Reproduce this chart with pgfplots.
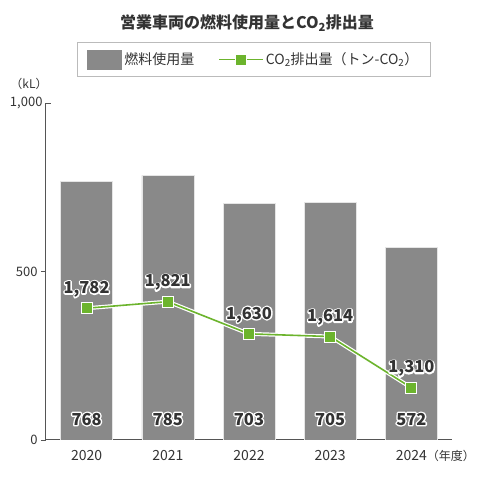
\documentclass[border=0pt]{standalone}
\usepackage{pgfplots}
\pgfplotsset{compat=1.18}
\usepackage{fontspec}
\setmainfont{Noto Sans CJK JP}
\newcommand\halo[1]{\leavevmode\rlap{\special{pdf:literal direct 1 Tr 2.8 w 1 j 1 1 1 RG}#1\special{pdf:literal direct 0 Tr}}#1}
\definecolor{bargray}{HTML}{898989}
\definecolor{cogreen}{HTML}{6CB42D}
\definecolor{axgray}{HTML}{555555}
\definecolor{txt}{HTML}{333333}
\definecolor{legendgray}{HTML}{BBBBBB}
\pgfplotsset{co legend/.style={legend image code/.code={\draw[mark repeat=2,mark phase=2,##1] plot coordinates {(0pt,0pt) (22pt,0pt) (44pt,0pt)};}}}
\begin{document}
\begin{tikzpicture}
\path[use as bounding box] (0pt,0pt) rectangle (482pt,478pt);
\node[font=\fontsize{16}{19}\selectfont\bfseries, text=txt] at (247pt,455pt) {営業車両の燃料使用量とCO\textsubscript{2}排出量};
\node[font=\fontsize{12}{14}\selectfont, text=txt] at (29pt,394pt) {（kL）};
\begin{axis}[
  at={(46pt,38pt)}, anchor=south west,
  scale only axis, width=406pt, height=337pt,
  xmin=-0.5, xmax=4.5, ymin=0, ymax=1000,
  axis x line*=bottom, axis y line*=left,
  axis line style={-, draw=axgray, line width=1pt},
  xtick={0,1,2,3,4},
  xticklabels={2020,2021,2022,2023,{2024\rlap{\fontsize{12}{14}\selectfont（年度）}}},
  xtick style={draw=none},
  xticklabel style={font=\fontsize{14}{16}\selectfont, text=txt, yshift=-2pt},
  ytick={0,500},
  tick align=outside,
  major tick length=5pt,
  ytick style={draw=axgray, line width=0.8pt},
  extra y ticks={1000},
  extra y tick style={tick align=inside},
  yticklabel style={font=\fontsize{13}{15}\selectfont, text=txt},
  /pgf/number format/assume math mode=true,
  /pgf/number format/1000 sep={,},
]
\addplot[ybar, bar width=52pt, fill=bargray, draw=white!80!gray, line width=0.6pt,
  visualization depends on={rawy \as \rawy},
  nodes near coords={\halo{\pgfmathprintnumber{\pgfplotspointmeta}}},
  every node near coord/.append style={font=\fontsize{16.5}{18}\selectfont\bfseries, text=txt, anchor=center, yshift={(62-\rawy)*0.337pt}},
] coordinates {(0,768) (1,785) (2,703) (3,705) (4,572)};
\end{axis}
\begin{axis}[
  at={(46pt,38pt)}, anchor=south west,
  scale only axis, width=406pt, height=337pt,
  xmin=-0.5, xmax=4.5, ymin=1000, ymax=3000,
  hide axis,
  clip=false,
  /pgf/number format/assume math mode=true,
  /pgf/number format/1000 sep={,},
  legend columns=2,
  legend style={at={(0.512,1.129)}, anchor=center, draw=legendgray, line width=1pt,
    inner xsep=10pt, inner ysep=7pt, font=\fontsize{14}{16}\selectfont, text=txt,
    /tikz/every even column/.append style={column sep=22pt}},
]
\addlegendimage{legend image code/.code={\fill[bargray] (0pt,-9.5pt) rectangle (34pt,9.5pt);}}
\addlegendentry{燃料使用量}
\addplot[white, line width=4pt, forget plot] coordinates {(0,1782) (1,1821) (2,1630) (3,1614) (4,1310)};
\addplot[cogreen, line width=1.6pt, mark=square*, mark size=5.5pt,
  mark options={fill=cogreen, draw=white, line width=0.9pt},
  nodes near coords={\halo{\pgfmathprintnumber{\pgfplotspointmeta}}},
  every node near coord/.append style={font=\fontsize{16.5}{18}\selectfont\bfseries, text=txt, anchor=center, yshift=19pt},
  co legend,
] coordinates {(0,1782) (1,1821) (2,1630) (3,1614) (4,1310)};
\addlegendentry{CO\textsubscript{2}排出量（トン-CO\textsubscript{2}）}
\end{axis}
\end{tikzpicture}
\end{document}
